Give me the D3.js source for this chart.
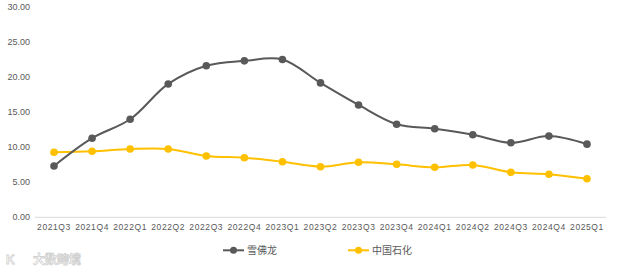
<!DOCTYPE html>
<html><head><meta charset="utf-8">
<script src="https://cdn.jsdelivr.net/npm/d3@7"></script>
<style>body{margin:0;background:#fff}svg{display:block}</style>
</head><body>
<svg id="c" width="640" height="272"></svg>
<script>
const categories = ["2021Q3","2021Q4","2022Q1","2022Q2","2022Q3","2022Q4","2023Q1","2023Q2","2023Q3","2023Q4","2024Q1","2024Q2","2024Q3","2024Q4","2025Q1"];
const chevron = [7.33,11.30,14.00,19.05,21.65,22.35,22.55,19.20,16.05,13.30,12.65,11.80,10.65,11.60,10.45];
const sinopec = [9.29,9.43,9.76,9.76,8.76,8.51,7.94,7.23,7.86,7.57,7.14,7.47,6.43,6.14,5.51];
const yTicks = [0,5,10,15,20,25,30];
const seriesNames = ["雪佛龙","中国石化"];
const colors = ["#595959","#FFC000"];

const svg = d3.select("#c");
const x = d3.scalePoint().domain(categories).range([54,587]);
const y = d3.scaleLinear().domain([0,30]).range([217.3,7.3]);
const font = "'Liberation Sans', Arial, sans-serif";

// axis line
svg.append("line").attr("x1",35).attr("x2",606).attr("y1",y(0)).attr("y2",y(0))
  .attr("stroke","#d9d9d9").attr("stroke-width",1);

// y labels
svg.append("g").selectAll("text").data(yTicks).join("text")
  .attr("x",30).attr("y",d=>y(d)).attr("dy","0.35em").attr("text-anchor","end")
  .attr("font-family",font).attr("font-size",9).attr("fill","#595959")
  .text(d=>d.toFixed(2));

// x labels
svg.append("g").selectAll("text").data(categories).join("text")
  .attr("x",d=>x(d)).attr("y",227).attr("dy","0.35em").attr("text-anchor","middle")
  .attr("font-family",font).attr("font-size",8.5).attr("letter-spacing",0.6).attr("fill","#595959")
  .text(d=>d);

const line = d3.line().x((d,i)=>x(categories[i])).y(d=>y(d)).curve(d3.curveCatmullRom.alpha(0.5));
[sinopec, chevron].forEach((s,k)=>{
  const c = k===0 ? colors[1] : colors[0];
  svg.append("path").datum(s).attr("d",line).attr("fill","none").attr("stroke",c).attr("stroke-width",2);
  svg.append("g").selectAll("circle").data(s).join("circle")
    .attr("cx",(d,i)=>x(categories[i])).attr("cy",d=>y(d)).attr("r",3.8).attr("fill",c);
});

// legend
const leg = [{x:223,name:seriesNames[0],c:colors[0]},{x:348,name:seriesNames[1],c:colors[1]}];
leg.forEach(l=>{
  const g = svg.append("g");
  g.append("line").attr("x1",l.x).attr("x2",l.x+21).attr("y1",250.3).attr("y2",250.3).attr("stroke",l.c).attr("stroke-width",2);
  g.append("circle").attr("cx",l.x+10.5).attr("cy",250.3).attr("r",3.5).attr("fill",l.c);
  g.append("text").attr("x",l.x+24).attr("y",250.3).attr("dy","0.35em")
    .attr("font-family","'Noto Sans CJK SC', sans-serif").attr("font-size",10).attr("fill","#595959").text(l.name);
});

// watermark
svg.append("text").attr("x",6).attr("y",260).attr("dy","0.35em")
  .attr("font-family",font).attr("font-size",12).attr("font-weight","bold")
  .attr("fill","#fff").attr("stroke","#d0d0d0").attr("stroke-width",0.8).text("K");
svg.append("text").attr("x",33).attr("y",260).attr("dy","0.35em")
  .attr("font-family","'Noto Sans CJK SC', sans-serif").attr("font-size",12).attr("font-weight","bold")
  .attr("fill","#fff").attr("stroke","#d0d0d0").attr("stroke-width",0.8).text("大数跨境");
</script>
</body></html>
